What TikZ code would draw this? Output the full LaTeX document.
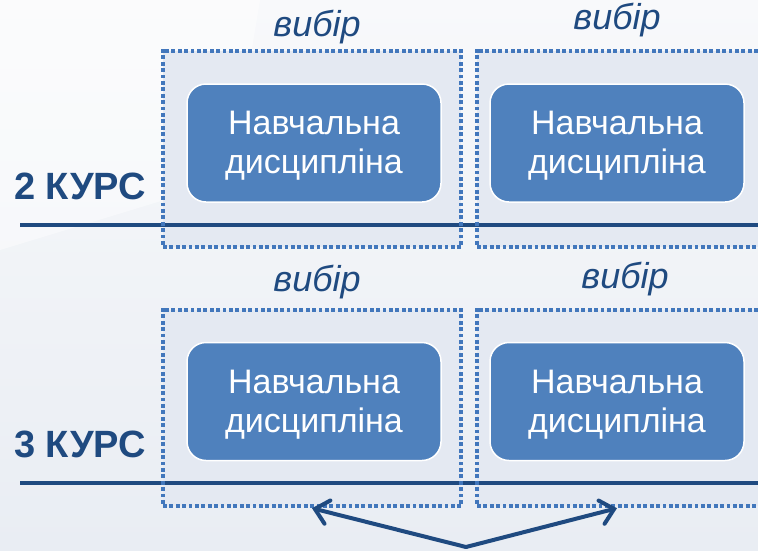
\documentclass[tikz,border=0pt]{standalone}
\usepackage{fontspec}
\setmainfont{Liberation Sans}
\usetikzlibrary{arrows.meta,decorations.markings}
\definecolor{dkblue}{HTML}{1F4A80}
\definecolor{midblue}{HTML}{4F81BD}
\definecolor{dotblue}{HTML}{4277BC}
\definecolor{boxfill}{HTML}{E4E9F2}
\definecolor{bgA}{HTML}{F8F9FB}
\definecolor{bgB}{HTML}{E9EDF3}
\begin{document}
\begin{tikzpicture}[x=1pt,y=-1pt,
  choice/.style={fill=boxfill, minimum width=298pt, minimum height=196pt, inner sep=0pt},
  dots/.style={decorate, decoration={markings,
      mark=between positions 0 and 1 step 6.4pt with
        {\fill[dotblue] (-1.9pt,-1.9pt) rectangle (1.9pt,1.9pt);}}},
  disc/.style={draw=white, line width=1.5pt, fill=midblue, rounded corners=19pt,
    minimum width=254pt, minimum height=118pt, inner sep=0pt},
  disctext/.style={text=white, font=\fontsize{34}{39}\selectfont, align=center, inner sep=0pt},
  pick/.style={text=dkblue, font=\itshape\fontsize{36}{40}\selectfont, inner sep=0pt},
  year/.style={text=dkblue, font=\bfseries\fontsize{38}{42}\selectfont, inner sep=0pt},
  yline/.style={draw=dkblue, line width=4.5pt},
  pointer/.style={draw=dkblue, line width=4pt, line cap=round,
    -{Straight Barb[length=13pt, width=24pt, line cap=round]}}]
\useasboundingbox (0,0) rectangle (758,550);
\clip (0,0) rectangle (758,550);
% background
\shade[top color=bgA, bottom color=bgB] (0,0) rectangle (758,550);
\fill[white, opacity=0.45] (0,0) -- (260,0) -- (230,180) -- (0,250) -- cycle;

% choice frames
\node[choice] (b1) at (312,149) {};
\node[choice] (b2) at (626,149) {};
\node[choice] (b3) at (312,408) {};
\node[choice] (b4) at (626,408) {};

% year lines
\coordinate (l2a) at (20,225);
\coordinate (l2b) at (758,225);
\coordinate (l3a) at (20,483);
\coordinate (l3b) at (758,483);
\draw[yline] (l2a) -- (l2b);
\draw[yline] (l3a) -- (l3b);

\foreach \b in {b1,b2,b3,b4}
  \path[dots] (\b.north west) rectangle (\b.south east);

% disciplines
\node[disc] (d1) at (314,143) {};
\node[disc] (d2) at (617,143) {};
\node[disc] (d3) at (314,401.5) {};
\node[disc] (d4) at (617,401.5) {};
\foreach \d in {d1,d2,d3,d4}
  \node[disctext] (\d t) at ([yshift=-3pt]\d.center) {Навчальна\\дисципліна};

% labels
\node[pick] (p1) at (317,27) {вибір};
\node[pick] (p2) at (617,20) {вибір};
\node[pick] (p3) at (317,282) {вибір};
\node[pick] (p4) at (625,279) {вибір};
\node[year] (y2) at (80,186) {2 КУРС};
\node[year] (y3) at (80,444) {3 КУРС};

% arrows
\coordinate (apex) at (466,547);
\draw[pointer] (apex) -- ([yshift=-2pt]b3.south);
\draw[pointer] (apex) -- ([xshift=-9pt,yshift=-2pt]b4.south);
\end{tikzpicture}
\end{document}
